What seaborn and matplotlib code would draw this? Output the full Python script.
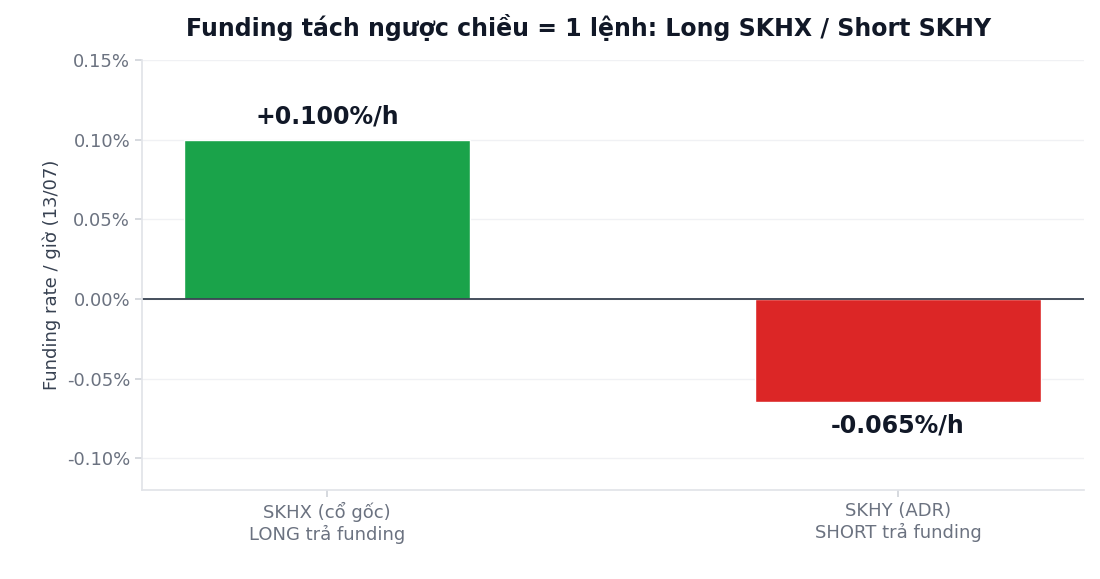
import matplotlib
matplotlib.use("Agg")
import matplotlib.pyplot as plt
import seaborn as sns
import pandas as pd

categories = ["SKHX (cổ gốc)\nLONG trả funding", "SKHY (ADR)\nSHORT trả funding"]
values = [0.100, -0.065]
labels = ["+0.100%/h", "-0.065%/h"]
colors = ["#1aa34a", "#dc2626"]

sns.set_theme(style="white")
plt.rcParams['font.family'] = ['DejaVu Sans']
fig = plt.figure(figsize=(11, 5.79), dpi=100)
ax = fig.add_axes([142/1100, 1-490/579, 942/1100, 430/579])
df = pd.DataFrame({"cat": categories, "val": values})
sns.barplot(data=df, x="cat", y="val", hue="cat", palette=colors, width=0.5, ax=ax, legend=False, saturation=1)
ax.set_xlim(-0.324, 1.326)
ax.set_ylim(-0.12, 0.15)
ax.set_yticks([-0.10, -0.05, 0, 0.05, 0.10, 0.15])
ax.set_yticklabels([f"{v:.2f}%" for v in [-0.10, -0.05, 0, 0.05, 0.10, 0.15]])
ax.yaxis.grid(True, color="#f0f1f4", lw=1)
ax.set_axisbelow(True)
ax.axhline(0, color="#374151", lw=1.3)
for s in ["top", "right"]:
    ax.spines[s].set_visible(False)
for s in ["left", "bottom"]:
    ax.spines[s].set_color("#e2e4e9")
ax.tick_params(axis="both", colors="#6b7280", labelsize=13, length=5, left=True, bottom=True, color="#d1d5db")
ax.set_xlabel("")
ax.set_ylabel("Funding rate / giờ (13/07)", fontsize=13, color="#374151")
for i, (v, l) in enumerate(zip(values, labels)):
    ax.text(i, v + (0.007 if v > 0 else -0.007), l, ha="center", va="bottom" if v > 0 else "top",
            fontsize=17, fontweight="bold", color="#111827")
fig.suptitle("Funding tách ngược chiều = 1 lệnh: Long SKHX / Short SKHY", x=0.535, y=0.975,
             fontsize=17, fontweight="bold", color="#111827")
fig.savefig("out.png", dpi=100)
